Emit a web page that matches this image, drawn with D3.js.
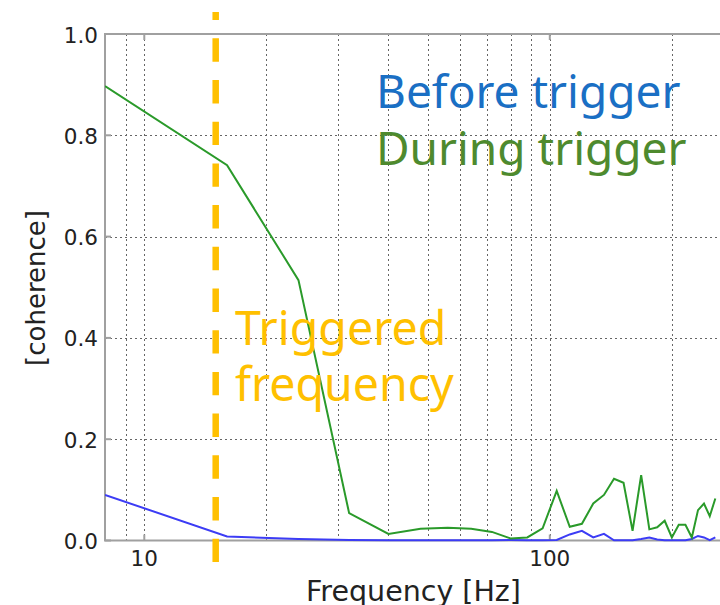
<!DOCTYPE html>
<html>
<head>
<meta charset="utf-8">
<script src="https://cdn.jsdelivr.net/npm/d3@7"></script>
<style>
  html, body { margin: 0; padding: 0; background: #fff; }
  svg { display: block; }
</style>
</head>
<body>
<svg id="chart" width="720" height="605"></svg>
<script>
// Frequency bins (Hz), 8 Hz resolution
const freqs = [8, 16, 24, 32, 40, 48, 56, 64, 72, 80, 88, 96, 104, 112, 120, 128,
               136, 144, 152, 160, 168, 176, 184, 192, 200, 208, 216, 224, 232, 240, 248, 256];

// Coherence before the trigger
const before = [0.090, 0.008, 0.003, 0.001, 0.0005, 0.0005, 0.0005, 0.0005, 0.0005, 0.001, 0.0005, 0.0005,
                0.001, 0.012, 0.019, 0.006, 0.013, 0.0005, 0.0005, 0.0005, 0.003, 0.006, 0.002, 0.0005,
                0.0005, 0.0005, 0.0005, 0.003, 0.009, 0.006, 0.0005, 0.006];

// Coherence during the trigger
const during = [0.897, 0.741, 0.514, 0.054, 0.013, 0.023, 0.025, 0.023, 0.017, 0.004, 0.006, 0.024,
                0.098, 0.027, 0.033, 0.073, 0.090, 0.122, 0.114, 0.019, 0.129, 0.022, 0.026, 0.039,
                0.006, 0.031, 0.031, 0.006, 0.060, 0.073, 0.048, 0.083];

const triggerFreq = 15;
const yTicks = [0, 0.2, 0.4, 0.6, 0.8, 1.0];
const xMajor = [10, 100];
const xMinor = [9, 20, 30, 40, 50, 60, 70, 80, 90, 200];

(function draw() {
  const svg = d3.select("#chart");
  const pLeft = 105, pTop = 34, pBottom = 540.5;
  const decade = 405.5;
  const fMin = 8, fMax = 265;
  const pRight = pLeft + decade * Math.log10(fMax / fMin);

  const x = d3.scaleLog().domain([fMin, fMax]).range([pLeft, pRight]);
  const y = d3.scaleLinear().domain([0, 1]).range([pBottom, pTop]);

  // Dotted grid
  const grid = svg.append("g").attr("stroke", "#666").attr("stroke-width", 1)
    .attr("stroke-dasharray", "2,3");
  grid.selectAll("line.v").data(xMajor.concat(xMinor)).join("line").attr("class", "v")
    .attr("x1", d => Math.round(x(d)) + 0.5).attr("x2", d => Math.round(x(d)) + 0.5)
    .attr("y1", pTop).attr("y2", pBottom);
  grid.selectAll("line.h").data(yTicks.slice(1, -1)).join("line").attr("class", "h")
    .attr("x1", pLeft).attr("x2", 720)
    .attr("y1", d => Math.round(y(d)) + 0.5).attr("y2", d => Math.round(y(d)) + 0.5);

  // Frame (left, top, bottom) with inward major ticks
  const frame = svg.append("g").attr("stroke", "#a0a0a0").attr("stroke-width", 2).attr("fill", "none");
  frame.append("path").attr("d", `M${pRight + 20},${pTop} H${pLeft} V${pBottom} H${pRight + 20}`);
  frame.selectAll("line.yt").data(yTicks).join("line").attr("class", "yt")
    .attr("x1", pLeft).attr("x2", pLeft + 6)
    .attr("y1", d => y(d)).attr("y2", d => y(d));
  frame.selectAll("line.xb").data(xMajor).join("line").attr("class", "xb")
    .attr("x1", d => x(d)).attr("x2", d => x(d))
    .attr("y1", pBottom).attr("y2", pBottom - 6);
  frame.selectAll("line.xt").data(xMajor).join("line").attr("class", "xt")
    .attr("x1", d => x(d)).attr("x2", d => x(d))
    .attr("y1", pTop).attr("y2", pTop + 6);

  // Tick labels
  const tickFont = "DejaVu Sans, Verdana, sans-serif";
  svg.append("g").selectAll("text").data(yTicks).join("text")
    .attr("x", pLeft - 7).attr("y", d => y(d) + 8.5)
    .attr("text-anchor", "end").attr("font-family", tickFont).attr("font-size", 21.5)
    .attr("fill", "#222").text(d => d.toFixed(1));
  svg.append("g").selectAll("text").data(xMajor).join("text")
    .attr("x", d => x(d)).attr("y", pBottom + 25)
    .attr("text-anchor", "middle").attr("font-family", tickFont).attr("font-size", 21.5)
    .attr("fill", "#222").text(d => d);

  // Axis titles
  svg.append("text").attr("x", 413.5).attr("y", 601).attr("text-anchor", "middle")
    .attr("font-family", tickFont).attr("font-size", 28.5).attr("fill", "#222")
    .text("Frequency [Hz]");
  svg.append("text").attr("transform", "translate(45,288) rotate(-90)").attr("text-anchor", "middle")
    .attr("font-family", tickFont).attr("font-size", 26).attr("fill", "#222")
    .text("[coherence]");

  // Clip the series to the plotting region
  svg.append("clipPath").attr("id", "plotClip").append("rect")
    .attr("x", pLeft).attr("y", 0).attr("width", 720 - pLeft).attr("height", pBottom + 2);

  const line = d3.line().x(d => x(d[0])).y(d => y(d[1]));
  const plot = svg.append("g").attr("clip-path", "url(#plotClip)");
  plot.append("path").datum(freqs.map((f, i) => [f, before[i]]))
    .attr("d", line).attr("fill", "none").attr("stroke", "#3c3cf5").attr("stroke-width", 2);
  plot.append("path").datum(freqs.map((f, i) => [f, during[i]]))
    .attr("d", line).attr("fill", "none").attr("stroke", "#2a9a2a").attr("stroke-width", 2);

  // Trigger frequency marker
  svg.append("line")
    .attr("x1", x(triggerFreq)).attr("x2", x(triggerFreq))
    .attr("y1", 12).attr("y2", 562)
    .attr("stroke", "#ffc000").attr("stroke-width", 6.5)
    .attr("stroke-dasharray", "23.4,18.3").attr("stroke-dashoffset", 15.4);

  // Annotations
  const noteFont = "Noto Sans, Open Sans, sans-serif";
  svg.append("text").attr("x", 376).attr("y", 108).attr("font-family", noteFont)
    .attr("font-size", 46).attr("fill", "#1a6fc4").text("Before trigger");
  svg.append("text").attr("x", 376).attr("y", 165).attr("font-family", noteFont)
    .attr("font-size", 46).attr("fill", "#4e8a2e").text("During trigger");
  svg.append("text").attr("x", 235).attr("y", 345).attr("font-family", noteFont)
    .attr("font-size", 46.5).attr("fill", "#ffc000").text("Triggered");
  svg.append("text").attr("x", 235).attr("y", 401).attr("font-family", noteFont)
    .attr("font-size", 46.5).attr("fill", "#ffc000").text("frequency");
})();
</script>
</body>
</html>
